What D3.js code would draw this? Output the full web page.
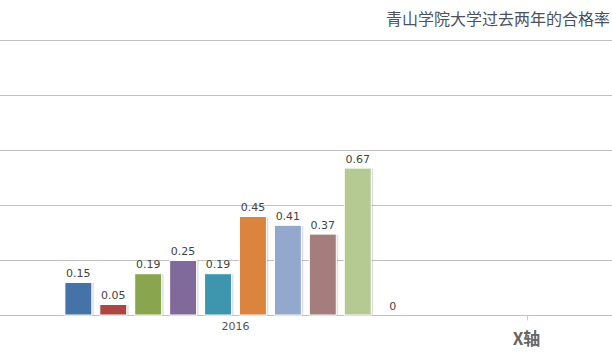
<!DOCTYPE html>
<html>
<head>
<meta charset="utf-8">
<script src="https://cdn.jsdelivr.net/npm/d3@7/dist/d3.min.js"></script>
<style>
  html, body { margin: 0; padding: 0; background: #fff; }
  svg { display: block; }
</style>
</head>
<body>
<svg id="chart" width="612" height="357"></svg>
<script>
// ---- data ----
const title = "青山学院大学过去两年的合格率";
const xAxisTitle = "X轴";
const categories = ["2016", "2017"];
const seriesIndex = [0, 1, 2, 3, 4, 5, 6, 7, 8, 9];
const values2016 = [0.15, 0.05, 0.19, 0.25, 0.19, 0.45, 0.41, 0.37, 0.67, 0];
const colors = ["#4572A7", "#AA4643", "#89A54E", "#80699B", "#3D96AE", "#DB843D", "#92A8CD", "#A47D7C", "#B5CA92", "#4572A7"];
const yTicks = [0, 0.25, 0.5, 0.75, 1, 1.25];

// ---- layout ----
const W = 612, H = 357;
const svg = d3.select("#chart");

const y = d3.scaleLinear().domain([0, 1.25]).range([315, 40]);
const x = d3.scaleBand().domain(categories).range([-55.5, 1108.5]).paddingInner(0).paddingOuter(0);
const groupPadding = 0.2;
const xs = d3.scaleBand()
  .domain(seriesIndex)
  .range([x.bandwidth() * groupPadding, x.bandwidth() * (1 - groupPadding)])
  .paddingInner(0.2).paddingOuter(0.1);

const crisp = v => Math.round(v) + 0.5;

// gridlines
svg.append("g").selectAll("line")
  .data(yTicks.filter(t => t > 0))
  .join("line")
  .attr("x1", 0).attr("x2", W)
  .attr("y1", d => crisp(y(d))).attr("y2", d => crisp(y(d)))
  .attr("stroke", "#C0C0C0").attr("stroke-width", 1);

// x axis
const gx = svg.append("g").attr("transform", `translate(0,${crisp(y(0))})`);
gx.append("line").attr("x1", 0).attr("x2", W).attr("y1", 0).attr("y2", 0)
  .attr("stroke", "#C0C0C0");
// tick marks at category boundaries
gx.selectAll("line.tick")
  .data(categories.slice(1))
  .join("line").attr("class", "tick")
  .attr("x1", d => crisp(x(d))).attr("x2", d => crisp(x(d)))
  .attr("y1", 0).attr("y2", 5)
  .attr("stroke", "#C0D0E0");
// category labels (only those inside the visible area)
gx.selectAll("text.cat")
  .data(categories.filter(c => x(c) + x.bandwidth() / 2 < W))
  .join("text").attr("class", "cat")
  .attr("x", d => x(d) + x.bandwidth() / 2)
  .attr("y", 14)
  .attr("text-anchor", "middle")
  .attr("font-family", "DejaVu Sans, Verdana, sans-serif")
  .attr("font-size", 11)
  .attr("fill", "#555")
  .text(d => d);

// bars for 2016
const gBars = svg.append("g").attr("transform", `translate(${x("2016")},0)`);
const bars = seriesIndex.map(i => ({ i, v: values2016[i] }));

// shadow
gBars.selectAll("rect.shadow")
  .data(bars.filter(d => d.v > 0))
  .join("rect").attr("class", "shadow")
  .attr("x", d => xs(d.i) + 1.5)
  .attr("y", d => y(d.v) + 1)
  .attr("width", xs.bandwidth())
  .attr("height", d => y(0) - y(d.v) - 1)
  .attr("fill", "#000").attr("opacity", 0.12);

gBars.selectAll("rect.bar")
  .data(bars)
  .join("rect").attr("class", "bar")
  .attr("x", d => xs(d.i) + 0.5)
  .attr("y", d => y(d.v) + 0.5)
  .attr("width", xs.bandwidth() - 1)
  .attr("height", d => Math.max(0, y(0) - y(d.v) - 0.5))
  .attr("fill", d => colors[d.i])
  .attr("stroke", "#fff").attr("stroke-width", 1);

gBars.selectAll("text.lbl")
  .data(bars)
  .join("text").attr("class", "lbl")
  .attr("x", d => xs(d.i) + xs.bandwidth() / 2)
  .attr("y", d => y(d.v) - 5)
  .attr("text-anchor", "middle")
  .attr("font-family", "DejaVu Sans, Verdana, sans-serif")
  .attr("font-size", 11)
  .attr("fill", "#444")
  .text(d => d.v === 0 ? "0" : d3.format(".2f")(d.v));

// axis title
svg.append("text")
  .attr("x", x.range()[0] + (x.range()[1] - x.range()[0]) / 2)
  .attr("y", 345)
  .attr("text-anchor", "middle")
  .attr("font-family", "Noto Sans CJK SC, sans-serif")
  .attr("font-size", 17)
  .attr("font-weight", "bold")
  .attr("fill", "#666")
  .text(xAxisTitle);

// title
svg.append("text")
  .attr("x", 610)
  .attr("y", 25)
  .attr("text-anchor", "end")
  .attr("font-family", "Noto Sans CJK SC, sans-serif")
  .attr("font-size", 16)
  .attr("fill", "#4a5260")
  .text(title);
</script>
</body>
</html>
